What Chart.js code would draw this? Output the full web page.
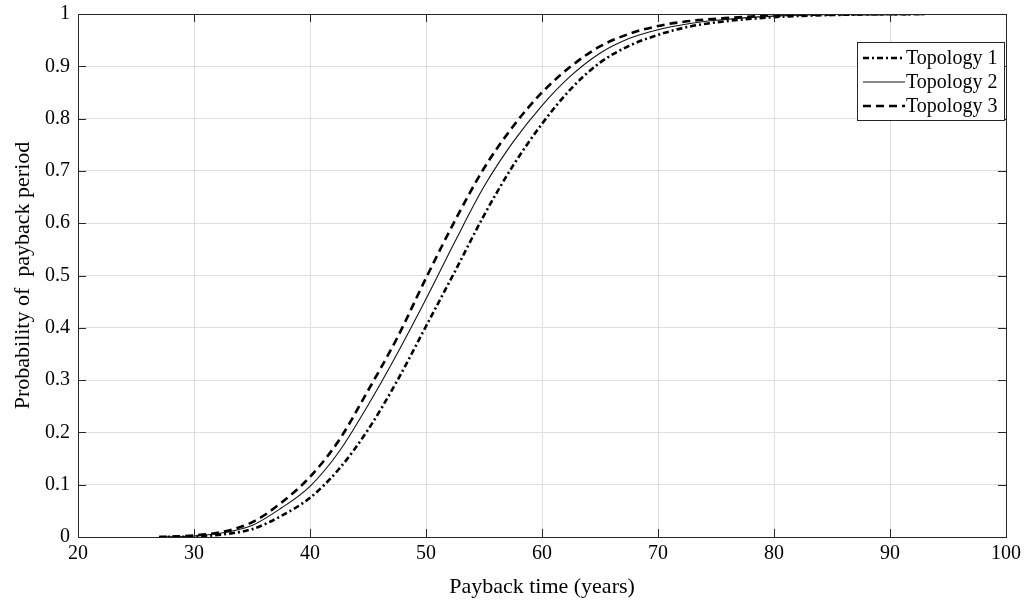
<!DOCTYPE html>
<html>
<head>
<meta charset="utf-8">
<script src="https://cdn.jsdelivr.net/npm/chart.js@4"></script>
<style>
  html, body { margin: 0; padding: 0; background: #fff; }
  #wrap { width: 1028px; height: 602px; position: relative; }
</style>
</head>
<body>
<div id="wrap"><canvas id="payback"></canvas></div>
<script>
// values
var labels = ['Topology 1', 'Topology 2', 'Topology 3'];

var payX = [27, 30, 32.5, 35, 37.5, 40, 42.5, 45, 47.5, 50, 52.5, 55, 57.5, 60, 62.5, 65, 67.5, 70, 72.5, 75, 80, 85, 93];

var topo1Y = [0, 0.001, 0.005, 0.015, 0.04, 0.075, 0.13, 0.205, 0.298, 0.403, 0.508, 0.615, 0.71, 0.79, 0.857, 0.907, 0.939, 0.96, 0.975, 0.984, 0.994, 0.998, 1];
var topo2Y = [0, 0.002, 0.008, 0.022, 0.055, 0.097, 0.163, 0.252, 0.35, 0.455, 0.565, 0.67, 0.755, 0.825, 0.882, 0.925, 0.953, 0.97, 0.981, 0.988, 0.996, 0.999, 1];
var topo3Y = [0, 0.003, 0.01, 0.028, 0.065, 0.115, 0.185, 0.28, 0.38, 0.495, 0.605, 0.705, 0.785, 0.85, 0.9, 0.938, 0.962, 0.977, 0.986, 0.991, 0.997, 0.999, 1];

var xTickValues = [20, 30, 40, 50, 60, 70, 80, 90, 100];
var yTickValues = [0, 0.1, 0.2, 0.3, 0.4, 0.5, 0.6, 0.7, 0.8, 0.9, 1];

var serif = "'Liberation Serif', 'Times New Roman', serif";

function toPoints(xs, ys) {
    return xs.map(function (x, i) { return { x: x, y: ys[i] }; });
}

// box round the plot + inward tick marks on all four sides
var framePlugin = {
    id: 'frame',
    afterDatasetsDraw: function (chart) {
        var ctx = chart.ctx, a = chart.chartArea;
        var xs = chart.scales.x, ys = chart.scales.y;
        var len = 8;
        ctx.save();
        ctx.strokeStyle = '#262626';
        ctx.lineWidth = 1;
        ctx.beginPath();
        xTickValues.forEach(function (v) {
            var px = Math.round(xs.getPixelForValue(v)) + 0.5;
            ctx.moveTo(px, a.bottom); ctx.lineTo(px, a.bottom - len);
            ctx.moveTo(px, a.top); ctx.lineTo(px, a.top + len);
        });
        yTickValues.forEach(function (v) {
            var py = Math.round(ys.getPixelForValue(v)) + 0.5;
            ctx.moveTo(a.left, py); ctx.lineTo(a.left + len, py);
            ctx.moveTo(a.right, py); ctx.lineTo(a.right - len, py);
        });
        ctx.stroke();
        ctx.strokeRect(Math.round(a.left) + 0.5, Math.round(a.top) + 0.5,
            Math.round(a.right - a.left), Math.round(a.bottom - a.top));
        ctx.restore();
    }
};

// legend box inside the upper right corner
var boxLegend = {
    id: 'boxLegend',
    afterDraw: function (chart) {
        var ctx = chart.ctx, a = chart.chartArea;
        var w = 147, h = 78;
        var left = a.right - w - 2, top = a.top + 28;
        ctx.save();
        ctx.fillStyle = '#fff';
        ctx.fillRect(left, top, w, h);
        ctx.strokeStyle = '#262626';
        ctx.lineWidth = 1;
        ctx.strokeRect(left + 0.5, top + 0.5, w, h);
        ctx.font = '20px ' + serif;
        ctx.textBaseline = 'middle';
        chart.data.datasets.forEach(function (ds, i) {
            var y = top + 16 + i * 24;
            ctx.strokeStyle = ds.borderColor;
            ctx.lineWidth = ds.borderWidth;
            ctx.setLineDash(ds.borderDash || []);
            ctx.beginPath();
            ctx.moveTo(left + 6, y);
            ctx.lineTo(left + 48, y);
            ctx.stroke();
            ctx.setLineDash([]);
            ctx.fillStyle = '#000';
            ctx.fillText(ds.label, left + 49, y + 1);
        });
        ctx.restore();
    }
};

var ctx = document.getElementById('payback');
var chart = new Chart(ctx, {
    type: 'line',
    data: {
        datasets: [
            {
                label: labels[0],
                data: toPoints(payX, topo1Y),
                borderColor: '#000',
                borderWidth: 2.6,
                borderDash: [6, 3, 2, 3]
            },
            {
                label: labels[1],
                data: toPoints(payX, topo2Y),
                borderColor: '#111',
                borderWidth: 1.1
            },
            {
                label: labels[2],
                data: toPoints(payX, topo3Y),
                borderColor: '#000',
                borderWidth: 2.6,
                borderDash: [8, 5]
            }
        ]
    },
    options: {
        responsive: true,
        maintainAspectRatio: false,
        animation: false,
        layout: { padding: { left: 0, right: 22, top: 14, bottom: 0 } },
        elements: {
            point: { radius: 0 },
            line: { cubicInterpolationMode: 'monotone', fill: false }
        },
        plugins: {
            legend: { display: false },
            tooltip: { enabled: false }
        },
        scales: {
            x: {
                type: 'linear',
                min: 20,
                max: 100,
                afterBuildTicks: function (s) { s.ticks = xTickValues.map(function (v) { return { value: v }; }); },
                afterFit: function (s) { s.height = 65; },
                grid: { color: '#dedede', drawTicks: false },
                border: { display: false },
                ticks: {
                    padding: 5,
                    maxRotation: 0,
                    color: '#000',
                    font: { family: serif, size: 20 },
                    callback: function (v) { return String(v); }
                },
                title: {
                    display: true,
                    text: 'Payback time (years)',
                    color: '#000',
                    font: { family: serif, size: 22 },
                    padding: { top: 0, bottom: 2 }
                }
            },
            y: {
                type: 'linear',
                min: 0,
                max: 1,
                afterBuildTicks: function (s) { s.ticks = yTickValues.map(function (v) { return { value: v }; }); },
                afterFit: function (s) {
                    s.width = 78;
                    s.paddingTop = 0;
                    s.paddingBottom = 0;
                },
                grid: { color: '#dedede', drawTicks: false },
                border: { display: false },
                ticks: {
                    padding: 8,
                    color: '#000',
                    font: { family: serif, size: 20 },
                    callback: function (v) { return String(v); }
                },
                title: {
                    display: true,
                    text: 'Probability of  payback period',
                    color: '#000',
                    font: { family: serif, size: 22 },
                    padding: { top: 10, bottom: 0 }
                }
            }
        }
    },
    plugins: [framePlugin, boxLegend]
});
</script>
</body>
</html>
